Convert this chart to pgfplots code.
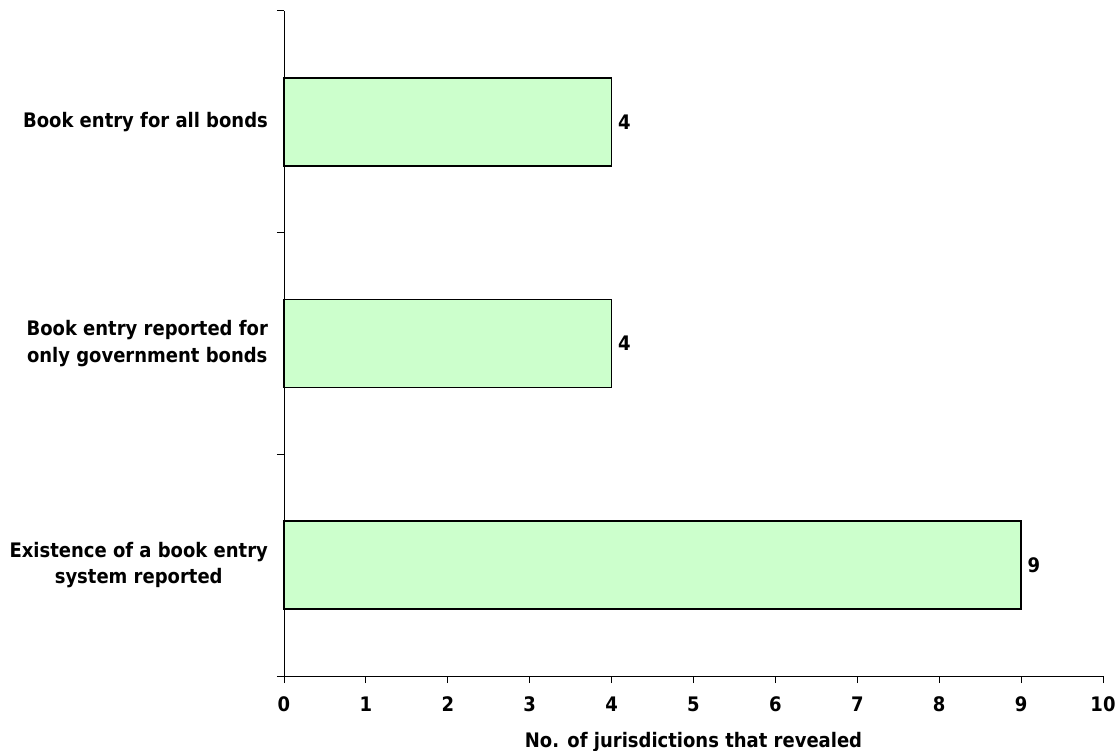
\documentclass[border=0pt]{standalone}
\usepackage{fontspec}
\setmainfont{DejaVu Sans Condensed}
\usepackage{pgfplots}
\pgfplotsset{compat=1.18}
\definecolor{barfill}{RGB}{204,255,204}
\newcommand{\lblfont}{\bfseries\fontsize{10}{13.2}\selectfont}
\begin{document}
\begin{tikzpicture}
\path[use as bounding box] (0,0) rectangle (558.5pt,375pt);
\begin{axis}[
  at={(142pt,37pt)}, anchor=south west,
  scale only axis, width=409.5pt, height=332.5pt,
  xbar, bar width=44pt,
  xmin=0, xmax=10, ymin=-0.5, ymax=2.5,
  axis x line*=bottom, axis y line*=left,
  axis line style={black, line width=0.5pt},
  tick align=outside,
  major tick length=3.5pt, minor tick length=3.5pt,
  xtick={0,1,...,10},
  ytick={0,1,2},
  yticklabels={{Existence of a book entry\\system reported},
               {Book entry reported for\\only government bonds},
               {Book entry for all bonds}},
  minor ytick={-0.5,0.5,1.5,2.5},
  major y tick style={draw=none},
  minor y tick style={black, line width=0.5pt},
  major x tick style={black, line width=0.5pt},
  /pgf/number format/assume math mode=true,
  ticklabel style={font=\lblfont},
  xticklabel style={yshift=-3.5pt},
  yticklabel style={align=center, xshift=-1pt},
  xlabel={No. of jurisdictions that revealed},
  xlabel style={font=\lblfont,
    at={(rel axis cs:0.5,0)}, anchor=base, yshift=-35.5pt},
  nodes near coords,
  nodes near coords style={font=\lblfont, anchor=west, xshift=-0.5pt},
  clip=false,
]
\addplot[draw=black, line width=0.8pt, fill=barfill] coordinates {(9,0) (4,1) (4,2)};
\end{axis}
\end{tikzpicture}
\end{document}
